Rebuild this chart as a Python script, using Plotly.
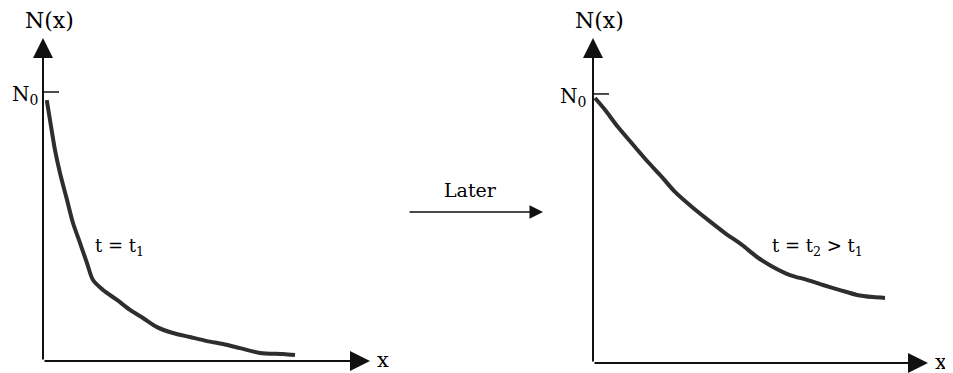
import plotly.graph_objects as go

# Left panel (t = t1): normalized distance x and N/N0
x_t1 = [0.15, 0.28, 0.48, 0.68, 0.96, 1.2, 1.48, 1.76, 2.0, 2.4, 2.96, 3.48, 4.0, 4.56, 5.2,
        5.88, 6.56, 7.2, 7.88, 8.68, 9.6, 10.08]
n_t1 = [0.970, 0.896, 0.784, 0.699, 0.599, 0.513, 0.439, 0.364, 0.301, 0.264, 0.227, 0.190,
        0.160, 0.126, 0.104, 0.089, 0.074, 0.063, 0.048, 0.030, 0.026, 0.022]

# Right panel (t = t2 > t1)
x_t2 = [0.08, 0.48, 1.0, 1.68, 2.2, 2.76, 3.28, 3.96, 4.6, 5.28, 5.96, 6.56, 7.2, 7.88, 8.56,
        9.2, 9.88, 10.56, 11.2, 11.68]
n_t2 = [0.985, 0.941, 0.877, 0.803, 0.747, 0.691, 0.636, 0.580, 0.532, 0.483, 0.439, 0.394,
        0.357, 0.327, 0.309, 0.290, 0.271, 0.253, 0.245, 0.242]

N0 = 1.0
ink = "#2e2e2e"
font = "DejaVu Serif"

# page body has an 8px margin; figure is sized to fill the rest of the window
OFF = 8
W, H = 953 - OFF, 373 - OFF


def fx(px):
    return (px - OFF) / W


def fy(py):
    return 1 - (py - OFF) / H


fig = go.Figure()
fig.add_trace(go.Scatter(x=x_t1, y=n_t1, mode="lines",
                         line=dict(color=ink, width=4, shape="spline", smoothing=0.8),
                         xaxis="x", yaxis="y", showlegend=False, hoverinfo="skip"))
fig.add_trace(go.Scatter(x=x_t2, y=n_t2, mode="lines",
                         line=dict(color=ink, width=4, shape="spline", smoothing=0.8),
                         xaxis="x2", yaxis="y2", showlegend=False, hoverinfo="skip"))

left_x = dict(domain=[fx(43), fx(370)], range=[0, 13.08], visible=False, fixedrange=True)
left_y = dict(domain=[fy(361), fy(38)], range=[0, 1.2007], visible=False, fixedrange=True)
right_x = dict(domain=[fx(593), fx(928)], range=[0, 13.4], visible=False, fixedrange=True)
right_y = dict(domain=[fy(363), fy(38)], range=[0, 1.208], visible=False, fixedrange=True)

anns = []
shapes = []
for xr, yr, xref, yref, lbl, lx, ly, nshift in [
    (13.08, 1.2007, "x", "y", "t = t<sub>1</sub>", 2.0, 0.424, -3),
    (13.4, 1.208, "x2", "y2", "t = t<sub>2</sub> > t<sub>1</sub>", 7.08, 0.431, -5),
]:
    # y axis with arrow
    anns.append(dict(x=0, y=yr, ax=0, ay=0, xref=xref, yref=yref, axref=xref, ayref=yref,
                     showarrow=True, arrowhead=2, arrowsize=2.0, arrowwidth=2, arrowcolor="#111",
                     standoff=0, text=""))
    # x axis with arrow
    anns.append(dict(x=xr, y=0, ax=0, ay=0, xref=xref, yref=yref, axref=xref, ayref=yref,
                     showarrow=True, arrowhead=2, arrowsize=2.0, arrowwidth=2, arrowcolor="#111",
                     standoff=0, text=""))
    # N0 tick
    shapes.append(dict(type="line", x0=0, x1=0.64, y0=N0, y1=N0, xref=xref, yref=yref,
                       line=dict(color="#111", width=1.5)))
    anns.append(dict(x=0, y=N0, xref=xref, yref=yref, text="N<sub>0</sub>", showarrow=False,
                     xanchor="right", yanchor="middle", xshift=nshift, yshift=-3,
                     font=dict(family=font, size=20, color="black")))
    anns.append(dict(x=0, y=yr, xref=xref, yref=yref, text="N(x)", showarrow=False,
                     xanchor="center", yanchor="middle", xshift=6, yshift=18,
                     font=dict(family=font, size=22, color="black")))
    anns.append(dict(x=xr, y=0, xref=xref, yref=yref, text="x", showarrow=False,
                     xanchor="left", yanchor="middle", xshift=5, yshift=1,
                     font=dict(family=font, size=21, color="black")))
    anns.append(dict(x=lx, y=ly, xref=xref, yref=yref, text=lbl, showarrow=False,
                     xanchor="left", yanchor="middle",
                     font=dict(family=font, size=18, color="black")))

# "Later" arrow between panels
anns.append(dict(x=fx(543), y=fy(212), ax=-(543 - 408), ay=0, xref="paper", yref="paper",
                 axref="pixel", ayref="pixel", showarrow=True, arrowhead=2, arrowsize=1.8,
                 arrowwidth=1.5, arrowcolor="#111", standoff=0, text=""))
anns.append(dict(x=fx(470), y=fy(190), xref="paper", yref="paper", text="Later", showarrow=False,
                 xanchor="center", yanchor="middle", font=dict(family=font, size=19, color="black")))

fig.update_layout(
    width=W, height=H, autosize=False,
    margin=dict(l=0, r=0, t=0, b=0),
    paper_bgcolor="white", plot_bgcolor="white",
    xaxis=left_x, yaxis=left_y, xaxis2=right_x, yaxis2=right_y,
    annotations=anns, shapes=shapes,
)
fig.write_html("out.html", config={"displayModeBar": False})
